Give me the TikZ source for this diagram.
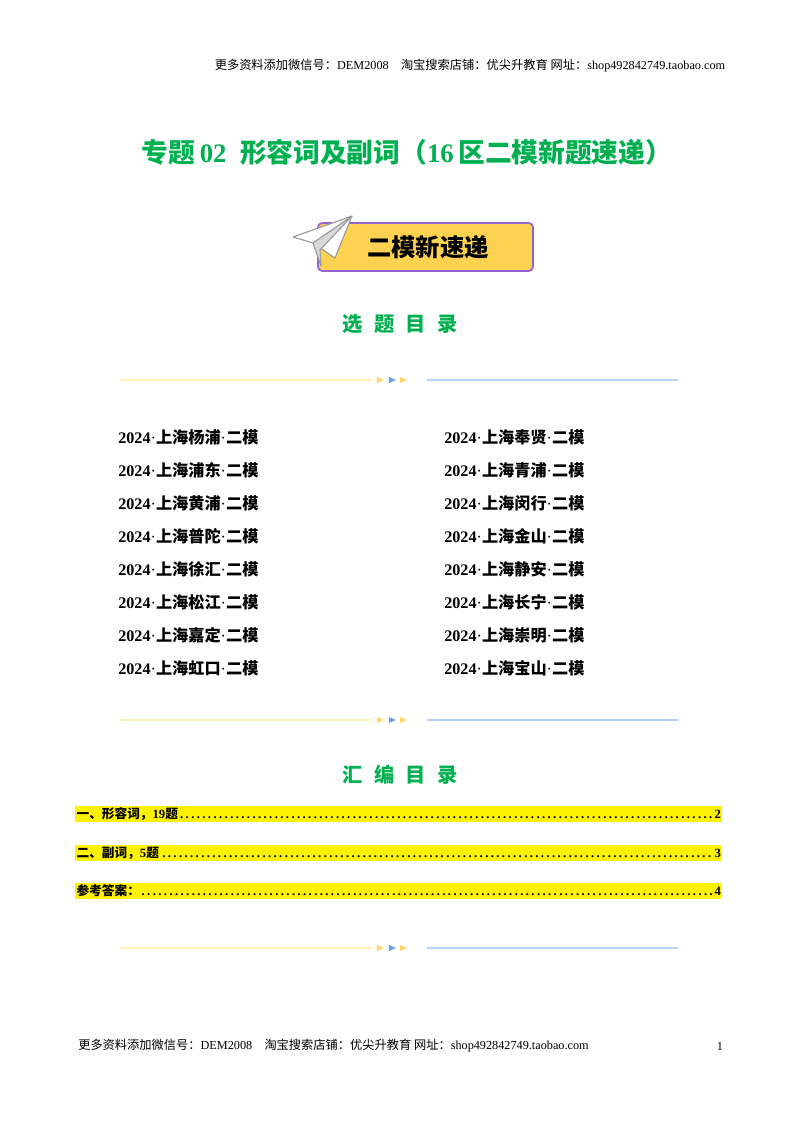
\documentclass[tikz,border=0pt]{standalone}
\usepackage{fontspec}
\setmainfont{Liberation Serif}
\newfontfamily\cjk{Noto Sans CJK SC}
\definecolor{titlegreen}{RGB}{0,176,80}
\definecolor{bannergold}{RGB}{252,210,80}
\definecolor{bannerpurple}{RGB}{150,100,210}
\definecolor{lineyellow}{RGB}{255,240,180}
\definecolor{lineblue}{RGB}{180,210,245}
\definecolor{tipyellow}{RGB}{250,215,100}
\definecolor{tipblue}{RGB}{110,160,235}
\newcommand\qu[1]{\textbf{2024}\textperiodcentered{\cjk\bfseries 上海#1}\textperiodcentered{\cjk\bfseries 二模}}
\tikzset{
  header/.style={font=\fontsize{8.7}{10}\selectfont, inner sep=0pt},
  heading/.style={font=\cjk\bfseries\Large, text=titlegreen},
  entry/.style={anchor=west, font=\fontsize{11.5}{13}\selectfont, inner sep=0pt},
  tocline/.style={anchor=west, fill=yellow, inner sep=1pt, text width=16.1cm, font=\small\bfseries},
}
\newcommand\divider[2]{% y position, name
  \draw[lineyellow, line width=1.2pt] (120,#1) -- (372,#1);
  \foreach \xx/\cc in {380/tipyellow,392/tipblue,403/tipyellow}
    \fill[\cc] (\xx-3,#1-3) -- (\xx+4,#1) -- (\xx-3,#1+3) -- cycle;
  \draw[lineblue, line width=1.2pt] (427,#1) -- (678,#1);
  \coordinate (#2) at (400,#1);
}
\begin{document}
\begin{tikzpicture}[x=0.025cm, y=-0.025cm]
\useasboundingbox (0,0) rectangle (800,1132);
% header
\node[header] (head) at (470,66) {{\cjk 更多资料添加微信号：}DEM2008\quad{\cjk 淘宝搜索店铺：优尖升教育 网址：}shop492842749.taobao.com};
\node[heading, font=\cjk\bfseries\fontsize{19}{22}\selectfont] (title) at (407,152) {专题\,\textrm{\textbf{02}}\; 形容词及副词（\textrm{\textbf{16}}\,区二模新题速递）};
% banner
\draw[bannerpurple, fill=bannergold, line width=1.2pt, rounded corners=3pt] (318,223) rectangle (533,271);
\node[font=\cjk\bfseries\LARGE] (banner) at (428,247) {二模新速递};
\draw[gray!80, fill=white, line join=round, line width=0.8pt] (293,237) -- (352,216) -- (335,258) -- (313,243) -- cycle;
\draw[gray!80, fill=gray!30, line join=round, line width=0.8pt] (313,243) -- (352,216) -- (320,250) -- (321,266) -- cycle;
\node[heading] (sel) at (400,324) {选\;\;题\;\;目\;\;录};
\divider{380}{divA}
% list
\foreach \n [count=\i] in {杨浦,浦东,黄浦,普陀,徐汇,松江,嘉定,虹口}
  \node[entry] (l\i) at (118,437+33*\i-33) {\qu{\n}};
\foreach \n [count=\i] in {奉贤,青浦,闵行,金山,静安,长宁,崇明,宝山}
  \node[entry] (r\i) at (444,437+33*\i-33) {\qu{\n}};
\divider{720}{divB}
\node[heading] (comp) at (400,775) {汇\;\;编\;\;目\;\;录};
\node[tocline] (t1) at (75,814) {{\cjk 一、形容词，}19{\cjk 题}\dotfill 2};
\node[tocline] (t2) at (75,853) {{\cjk 二、副词，}5{\cjk 题}\dotfill 3};
\node[tocline] (t3) at (75,891) {{\cjk 参考答案：}\dotfill 4};
\divider{948}{divC}
% footer
\node[header, anchor=west] (foot) at (78,1046) {{\cjk 更多资料添加微信号：}DEM2008\quad{\cjk 淘宝搜索店铺：优尖升教育 网址：}shop492842749.taobao.com};
\node[header] (pg) at (720,1046) {1};
\end{tikzpicture}
\end{document}
